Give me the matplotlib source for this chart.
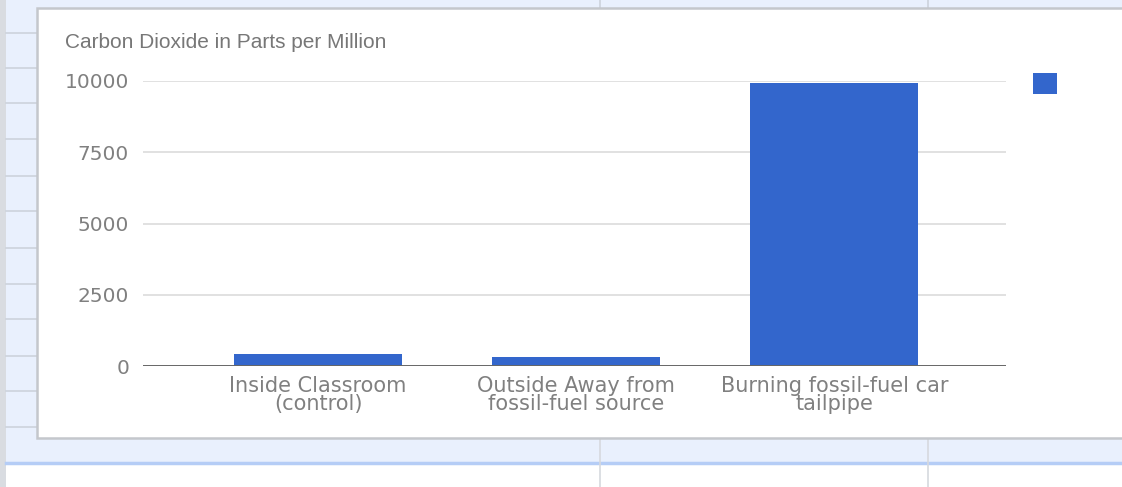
#!/usr/bin/env python3
from __future__ import annotations

import matplotlib

matplotlib.use("Agg")

import matplotlib.pyplot as plt
from matplotlib.patches import Rectangle
from matplotlib.lines import Line2D

W, H = 1122, 487

TITLE = "Carbon Dioxide in Parts per Million"
CATEGORIES = [
    "Inside Classroom\n(control)",
    "Outside Away from\nfossil-fuel source",
    "Burning fossil-fuel car\ntailpipe",
]
CO2_PPM = [410, 330, 9930]
Y_TICKS = [0, 2500, 5000, 7500, 10000]

BLUE = "#3366cc"
GRAY_TEXT = "#808080"
SHEET_BLUE = "#e9f0fd"


def fx(px):
    return px / W


def fy(py):
    return 1 - py / H


def prect(fig, x0, y0, x1, y1, **kw):
    fig.patches.append(
        Rectangle((fx(x0), fy(y1)), fx(x1) - fx(x0), fy(y0) - fy(y1),
                  transform=fig.transFigure, figure=fig, **kw)
    )


def pline(fig, xs, ys, **kw):
    fig.lines.append(
        Line2D([fx(x) for x in xs], [fy(y) for y in ys],
               transform=fig.transFigure, figure=fig, **kw)
    )


def main() -> None:
    plt.rcParams["font.family"] = ["DejaVu Sans"]
    fig = plt.figure(figsize=(W / 100, H / 100), dpi=100, facecolor=SHEET_BLUE)

    # spreadsheet background
    prect(fig, 0, 0, 6, H, facecolor="#d9dce1", edgecolor="none", zorder=-5)
    prect(fig, 6, 464, W, H, facecolor="white", edgecolor="none", zorder=-5)
    pline(fig, [6, W], [463, 463], color="#b5cdf6", lw=2.5, zorder=-4)
    for y in [33, 68, 103, 139, 176, 211, 248, 284, 319, 356, 391, 427]:
        pline(fig, [6, 37], [y, y], color="#cdd3dc", lw=1.2, zorder=-4)
    for x in [600, 928]:
        pline(fig, [x, x], [0, 8], color="#cdd3dc", lw=1.2, zorder=-4)
        pline(fig, [x, x], [439, H], color="#d6d9de", lw=1.2, zorder=-4)

    # chart card
    prect(fig, 37, 8, W + 10, 438, facecolor="white", edgecolor="#c4c7cc",
          lw=1.8, zorder=-3)

    # legend marker (no label text)
    prect(fig, 1033, 73, 1057, 94, facecolor=BLUE, edgecolor="none", zorder=-2)

    ax = fig.add_axes([fx(143), fy(366), fx(1006) - fx(143), fy(81) - fy(366)])
    ax.set_zorder(2)
    ax.set_facecolor("none")
    x = list(range(len(CATEGORIES)))
    ax.bar(x, CO2_PPM, width=0.65, color=BLUE, zorder=3)
    ax.set_xlim(-0.678, 2.665)
    ax.set_ylim(0, 10000)
    ax.set_yticks(Y_TICKS)
    ax.set_yticklabels([str(t) for t in Y_TICKS])
    ax.set_xticks(x)
    ax.set_xticklabels(CATEGORIES, linespacing=0.88)
    ax.tick_params(axis="y", length=0, pad=10, labelsize=14.5, labelcolor=GRAY_TEXT)
    ax.tick_params(axis="x", length=0, pad=7, labelsize=15, labelcolor=GRAY_TEXT)
    for t in Y_TICKS[1:]:
        ax.axhline(t, color="#dcdcdc", lw=1.2, zorder=1)
    ax.axhline(0, color="#666666", lw=1.4, zorder=4)
    for s in ax.spines.values():
        s.set_visible(False)

    fig.text(fx(65), fy(43), TITLE, ha="left", va="center",
             fontsize=15, color="#777777", family=["Liberation Sans", "DejaVu Sans"])

    fig.savefig("out.png", dpi=100, facecolor=SHEET_BLUE)
    plt.close(fig)


if __name__ == "__main__":
    main()
